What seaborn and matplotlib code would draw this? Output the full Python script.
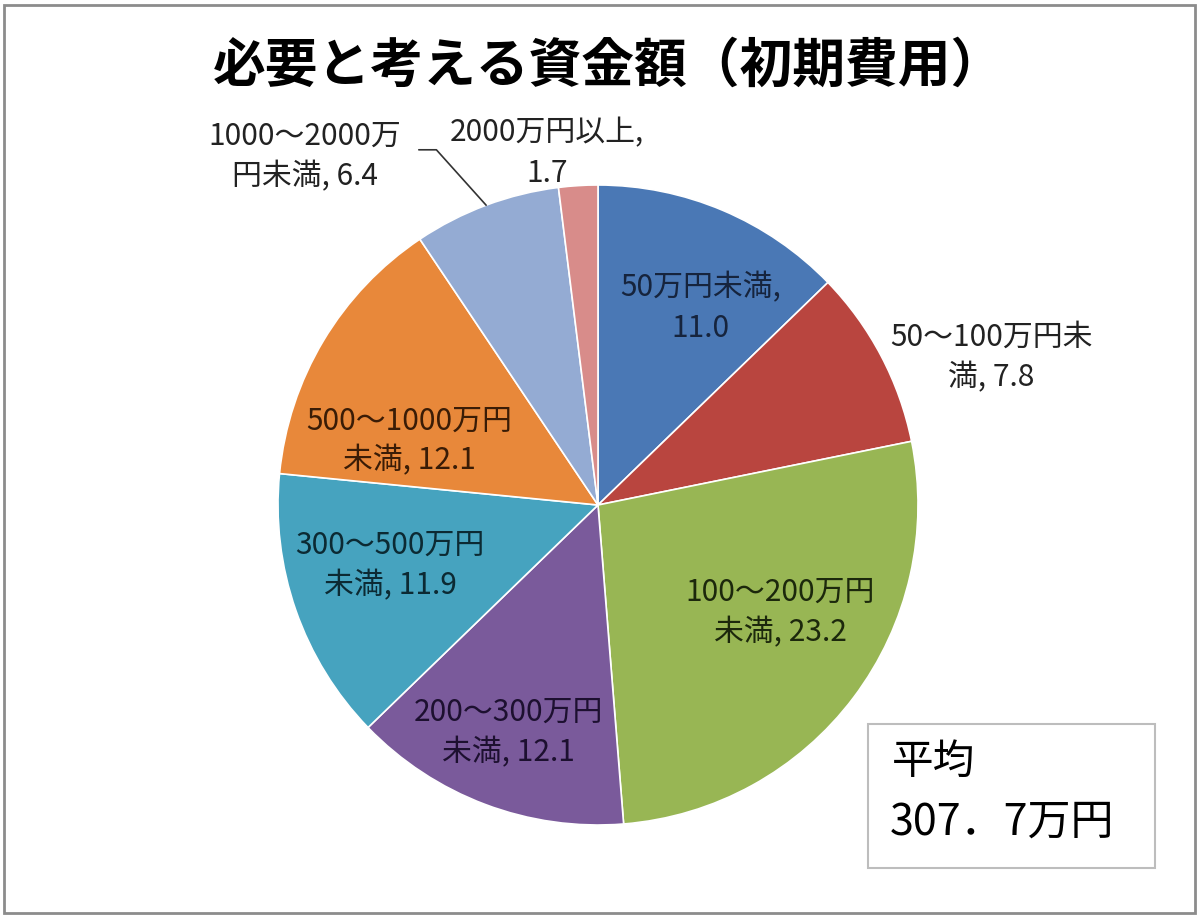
import numpy as np
import seaborn as sns
import matplotlib.pyplot as plt
from matplotlib.patches import Rectangle

# data
categories = ['50万円未満', '50～100万円未満', '100～200万円未満', '200～300万円未満',
              '300～500万円未満', '500～1000万円未満', '1000～2000万円未満', '2000万円以上']
values = [11.0, 7.8, 23.2, 12.1, 11.9, 12.1, 6.4, 1.7]
label_texts = ['50万円未満,\n11.0', '50～100万円未\n満, 7.8', '100～200万円\n未満, 23.2',
               '200～300万円\n未満, 12.1', '300～500万円\n未満, 11.9', '500～1000万円\n未満, 12.1',
               '1000～2000万\n円未満, 6.4', '2000万円以上,\n1.7']
title = '必要と考える資金額（初期費用）'
avg_label = '平均'
avg_value = '307．7万円'

sns.set_theme(style='white')
plt.rcParams['font.family'] = ['Noto Sans CJK JP', 'DejaVu Sans']

colors = sns.color_palette(['#4A78B5', '#B9453F', '#98B654', '#7A5A9B',
                            '#46A3BF', '#E8883A', '#94ABD3', '#D88C8A'])
text_colors = ['#16243d', '#222222', '#1c280c', '#1d1030',
               '#0c2a33', '#3a1c06', '#222222', '#222222']
# label centres in pie-radius units
label_pos = [(0.32, 0.615), (1.23, 0.46), (0.57, -0.335), (-0.28, -0.71),
             (-0.65, -0.19), (-0.59, 0.2), (-0.915, 1.09), (-0.16, 1.10)]

W, H = 1200, 917
fig = plt.figure(figsize=(W / 100, H / 100), dpi=100)
fig.patch.set_facecolor('white')

cx, cy, r = 598, 505, 320
ax = fig.add_axes([(cx - r) / W, (H - cy - r) / H, 2 * r / W, 2 * r / H])
wedges, _ = ax.pie(values, colors=colors, startangle=90, counterclock=False,
                   wedgeprops=dict(edgecolor='white', linewidth=1.2))
ax.set_xlim(-1, 1)
ax.set_ylim(-1, 1)
ax.set_clip_on(False)

for txt, (lx, ly), tc in zip(label_texts, label_pos, text_colors):
    ax.text(lx, ly, txt, ha='center', va='center', fontsize=21.5,
            color=tc, linespacing=1.38, clip_on=False)

# leader line for 1000～2000万円未満 slice
w = wedges[6]
mid = np.deg2rad((w.theta1 + w.theta2) / 2)
ex, ey = np.cos(mid), np.sin(mid)
ax.plot([ex, -0.505, -0.56], [ey, 1.11, 1.11], color='#333333', lw=1.2, clip_on=False)

fig.text(608 / W, 1 - 66 / H, title, ha='center', va='center',
         fontsize=38, fontweight='bold', color='black')

# average box
fig.patches.append(Rectangle((868 / W, 1 - 868 / H), (1155 - 868) / W, (868 - 724) / H,
                             transform=fig.transFigure, fill=False,
                             edgecolor='#BDBDBD', linewidth=1.5))
fig.text(892 / W, 1 - 762 / H, avg_label, ha='left', va='center', fontsize=30, color='black')
fig.text(890 / W, 1 - 823 / H, avg_value, ha='left', va='center', fontsize=31, color='black')

# outer chart frame
fig.patches.append(Rectangle((4 / W, 4 / H), (W - 9) / W, (H - 9) / H,
                             transform=fig.transFigure, fill=False,
                             edgecolor='#8C8C8C', linewidth=2))

fig.savefig('out.png', dpi=100, facecolor='white')
